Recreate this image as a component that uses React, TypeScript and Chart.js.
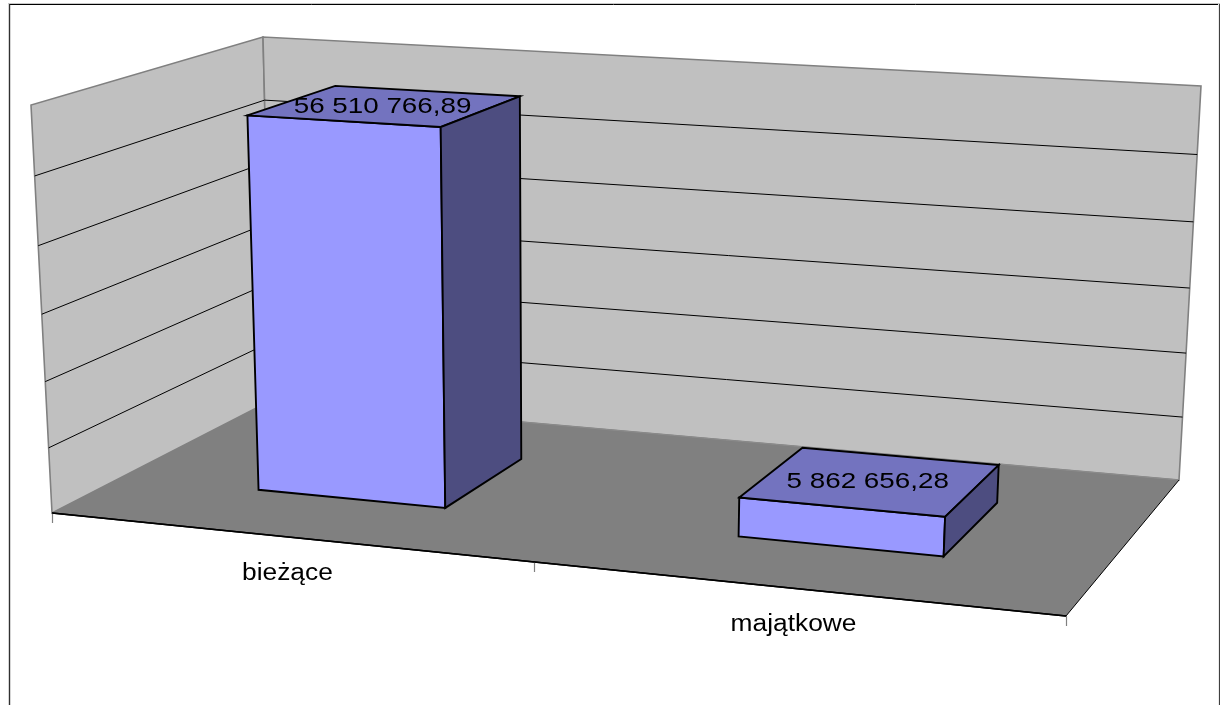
import React, { useEffect, useRef } from "react";
import { Chart, registerables } from "chart.js";

Chart.register(...registerables);

// Budget totals by expenditure type
const categories = ["bieżące", "majątkowe"];
const amounts = [56510766.89, 5862656.28];
const axisMax = 60000000;
const axisStep = 10000000;

type Pt = [number, number];

// Corners of the 3D box on screen: floor (front-left, front-right, back-right, back-left)
const floorQuad: Pt[] = [[52, 513], [1066, 616], [1179, 480], [272, 400]];
// Same corners at the top of the value axis
const ceilQuad: Pt[] = [[31, 105], [1089, 169], [1201, 86], [263, 37]];
const heightBow = 0.05;
const depthNear = 0.2963;
const depthFar = 0.7037;

const FONT = '"Liberation Sans", Arial, sans-serif';

// Unit square to quadrilateral projective mapping
function quadMap(q: Pt[]) {
  const [[x0, y0], [x1, y1], [x2, y2], [x3, y3]] = q;
  const dx1 = x1 - x2, dx2 = x3 - x2, sx = x0 - x1 + x2 - x3;
  const dy1 = y1 - y2, dy2 = y3 - y2, sy = y0 - y1 + y2 - y3;
  const det = dx1 * dy2 - dx2 * dy1;
  const g = (sx * dy2 - dx2 * sy) / det;
  const h = (dx1 * sy - sx * dy1) / det;
  const a = x1 - x0 + g * x1, b = x3 - x0 + h * x3;
  const d = y1 - y0 + g * y1, e = y3 - y0 + h * y3;
  return (u: number, w: number): Pt => {
    const n = g * u + h * w + 1;
    return [(a * u + b * w + x0) / n, (d * u + e * w + y0) / n];
  };
}

const floorAt = quadMap(floorQuad);
const ceilAt = quadMap(ceilQuad);

// u along the categories, w into the depth, v up the value axis (all 0..1)
function project(u: number, w: number, v: number): Pt {
  const t = (v * (1 - heightBow)) / (1 - heightBow * v);
  const f = floorAt(u, w);
  const c = ceilAt(u, w);
  return [f[0] + (c[0] - f[0]) * t, f[1] + (c[1] - f[1]) * t];
}

function poly(ctx: CanvasRenderingContext2D, pts: Pt[], fill: string | null, stroke: string | null, lw = 1) {
  ctx.beginPath();
  pts.forEach((p, i) => (i ? ctx.lineTo(p[0], p[1]) : ctx.moveTo(p[0], p[1])));
  ctx.closePath();
  if (fill) {
    ctx.fillStyle = fill;
    ctx.fill();
  }
  if (stroke) {
    ctx.strokeStyle = stroke;
    ctx.lineWidth = lw;
    ctx.lineJoin = "miter";
    ctx.stroke();
  }
}

function seg(ctx: CanvasRenderingContext2D, a: Pt, b: Pt, color: string, lw: number) {
  ctx.beginPath();
  ctx.moveTo(a[0], a[1]);
  ctx.lineTo(b[0], b[1]);
  ctx.strokeStyle = color;
  ctx.lineWidth = lw;
  ctx.stroke();
}

// Horizontally widened label, as the original renderer stretches its text
function wideText(ctx: CanvasRenderingContext2D, text: string, x: number, y: number, size: number, stretch: number, baseline: CanvasTextBaseline) {
  ctx.save();
  ctx.translate(x, y);
  ctx.scale(stretch, 1);
  ctx.font = `${size}px ${FONT}`;
  ctx.fillStyle = "#000000";
  ctx.textAlign = "center";
  ctx.textBaseline = baseline;
  ctx.fillText(text, 0, 0);
  ctx.restore();
}

// "56 510 766,89" style: space-grouped thousands, comma decimals
function formatAmount(value: number) {
  const [whole, frac] = value.toFixed(2).split(".");
  return `${whole.replace(/\B(?=(\d{3})+$)/g, " ")},${frac}`;
}

const box3d = {
  id: "box3d",
  beforeDatasetsDraw(chart: any) {
    const { ctx, chartArea: area, scales } = chart;
    const yScale = scales.y;
    const xScale = scales.x;
    const vOf = (value: number) => (area.bottom - yScale.getPixelForValue(value)) / area.height;

    ctx.save();
    // Chart frame, open at the bottom
    seg(ctx, [8, 3.5], [1220, 3.5], "#c8c8c8", 1);
    seg(ctx, [9, 4.5], [1218, 4.5], "#000000", 1);
    seg(ctx, [9.5, 4], [9.5, 705], "#303030", 1.4);
    seg(ctx, [1219.5, 4], [1219.5, 705], "#404040", 1.2);

    // Walls and floor
    const wallFront = project(0, 0, 1);
    const wallBack = project(0, 1, 1);
    const wallRight = project(1, 1, 1);
    const a = project(0, 0, 0), b = project(1, 0, 0), c = project(1, 1, 0), d = project(0, 1, 0);
    poly(ctx, [a, wallFront, wallBack, d], "#c0c0c0", "#808080", 1.6);
    poly(ctx, [d, wallBack, wallRight, c], "#c0c0c0", "#808080", 1.6);
    poly(ctx, [a, b, c, d], "#808080", null);
    seg(ctx, d, c, "#8c8c8c", 1);
    seg(ctx, a, b, "#000000", 1.3);
    seg(ctx, b, c, "#000000", 1);

    // Gridlines wrap from the left wall onto the back wall
    yScale.ticks.forEach((tick: any) => {
      const v = vOf(tick.value);
      if (v <= 0.001 || v >= 0.999) return;
      const p0 = project(0, 0, v), p1 = project(0, 1, v), p2 = project(1, 1, v);
      seg(ctx, p0, p1, "#000000", 1);
      seg(ctx, p1, p2, "#000000", 1);
    });

    // Category ticks on the front floor edge
    [0, 0.5, 1].forEach((u) => {
      const p = project(u, 0, 0);
      const px = Math.round(p[0]) + 0.5;
      seg(ctx, [px, p[1]], [px, p[1] + 10], "#808080", 1.2);
    });
    seg(ctx, a, b, "#000000", 1.3);

    // Category labels below the floor
    categories.forEach((_, i) => {
      const u = (xScale.getPixelForTick(i) - area.left) / area.width;
      const p = project(u, 0, 0);
      wideText(ctx, xScale.getLabelForValue(i), p[0], p[1] + 43, 23, 1.145, "alphabetic");
    });
    ctx.restore();
  },
  // Replace the flat rectangles with projected boxes
  beforeDatasetDraw(chart: any, args: any) {
    const { ctx, chartArea: area } = chart;
    const meta = args.meta;
    const dataset = chart.data.datasets[args.index];
    ctx.save();
    meta.data.forEach((el: any) => {
      const u0 = (el.x - el.width / 2 - area.left) / area.width;
      const u1 = (el.x + el.width / 2 - area.left) / area.width;
      const v0 = (area.bottom - el.base) / area.height;
      const v1 = (area.bottom - el.y) / area.height;
      const fb0 = project(u0, depthNear, v0), fb1 = project(u1, depthNear, v0);
      const ft0 = project(u0, depthNear, v1), ft1 = project(u1, depthNear, v1);
      const bb1 = project(u1, depthFar, v0);
      const bt0 = project(u0, depthFar, v1), bt1 = project(u1, depthFar, v1);
      poly(ctx, [fb0, ft0, ft1, fb1], dataset.backgroundColor, "#000000", 1.9);
      poly(ctx, [ft0, bt0, bt1, ft1], dataset.topColor, "#000000", 1.9);
      poly(ctx, [fb1, ft1, bt1, bb1], dataset.sideColor, "#000000", 1.9);
    });
    ctx.restore();
    return false;
  },
  afterDatasetsDraw(chart: any) {
    const { ctx, chartArea: area } = chart;
    const meta = chart.getDatasetMeta(0);
    meta.data.forEach((el: any, i: number) => {
      const u = (el.x - area.left) / area.width;
      const v = (area.bottom - el.y) / area.height;
      const p = project(u, 0.5, v);
      wideText(ctx, formatAmount(amounts[i]), p[0] - 3.5, p[1] + 1, 22.5, 1.235, "middle");
    });
  },
};

export default function App() {
  const ref = useRef<HTMLCanvasElement>(null);

  useEffect(() => {
    const chart = new Chart(ref.current as HTMLCanvasElement, {
      type: "bar",
      data: {
        labels: categories,
        datasets: [
          {
            data: amounts,
            backgroundColor: "#9999ff",
            topColor: "#7373bf",
            sideColor: "#4d4d80",
            categoryPercentage: 0.4,
            barPercentage: 1,
          } as any,
        ],
      },
      options: {
        animation: false,
        responsive: false,
        layout: { padding: 0 },
        plugins: { legend: { display: false }, title: { display: false }, tooltip: { enabled: false } },
        scales: {
          x: { display: false },
          y: { display: false, min: 0, max: axisMax, ticks: { stepSize: axisStep } },
        },
      },
      plugins: [box3d],
    });
    return () => chart.destroy();
  }, []);

  return (
    <div style={{ position: "absolute", left: 0, top: 0, width: 1220, height: 705, background: "#ffffff" }}>
      <canvas ref={ref} width={1220} height={705} style={{ display: "block" }} />
    </div>
  );
}
